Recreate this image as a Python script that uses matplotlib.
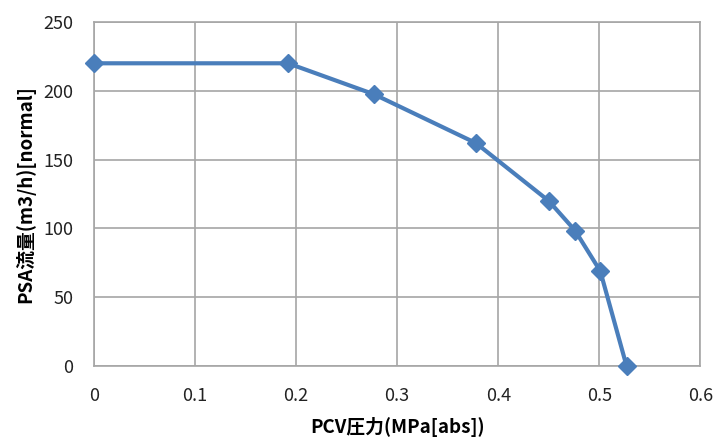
import matplotlib.pyplot as plt

plt.rcParams['font.family'] = ['Noto Sans CJK JP', 'DejaVu Sans']

# PCV pressure vs PSA flow
pressure = [0, 0.192, 0.277, 0.378, 0.450, 0.476, 0.501, 0.527]
flow = [220, 220, 197.5, 162, 120, 98.5, 69, 0]

xTicks = [0, 0.1, 0.2, 0.3, 0.4, 0.5, 0.6]
xTickLabels = ["0", "0.1", "0.2", "0.3", "0.4", "0.5", "0.6"]
yTicks = [0, 50, 100, 150, 200, 250]

fig = plt.figure(figsize=(7.15, 4.4), dpi=100)
ax = fig.add_axes([0.1315, 0.168, 0.848, 0.782])

ax.plot(pressure, flow, color='#4A7EBB', linewidth=3, marker='D',
        markersize=9, markerfacecolor='#4A7EBB', markeredgecolor='#4A7EBB',
        clip_on=False, zorder=3)

ax.set_xlim(0, 0.6)
ax.set_ylim(0, 250)
ax.set_xticks(xTicks)
ax.set_xticklabels(xTickLabels)
ax.set_yticks(yTicks)
ax.grid(True, color='#A6A6A6', linewidth=1.2)
ax.set_axisbelow(True)
for s in ax.spines.values():
    s.set_color('#A6A6A6')
    s.set_linewidth(1.2)
ax.tick_params(length=0, labelsize=13, colors='#222222')
ax.tick_params(axis='x', pad=15)
ax.tick_params(axis='y', pad=15)

ax.set_xlabel("PCV圧力(MPa[abs])", fontsize=13.5, fontweight='bold', labelpad=9)
ax.set_ylabel("PSA流量(m3/h)[normal]", fontsize=13.5, fontweight='bold', labelpad=6)

fig.savefig("out.png", dpi=100)
